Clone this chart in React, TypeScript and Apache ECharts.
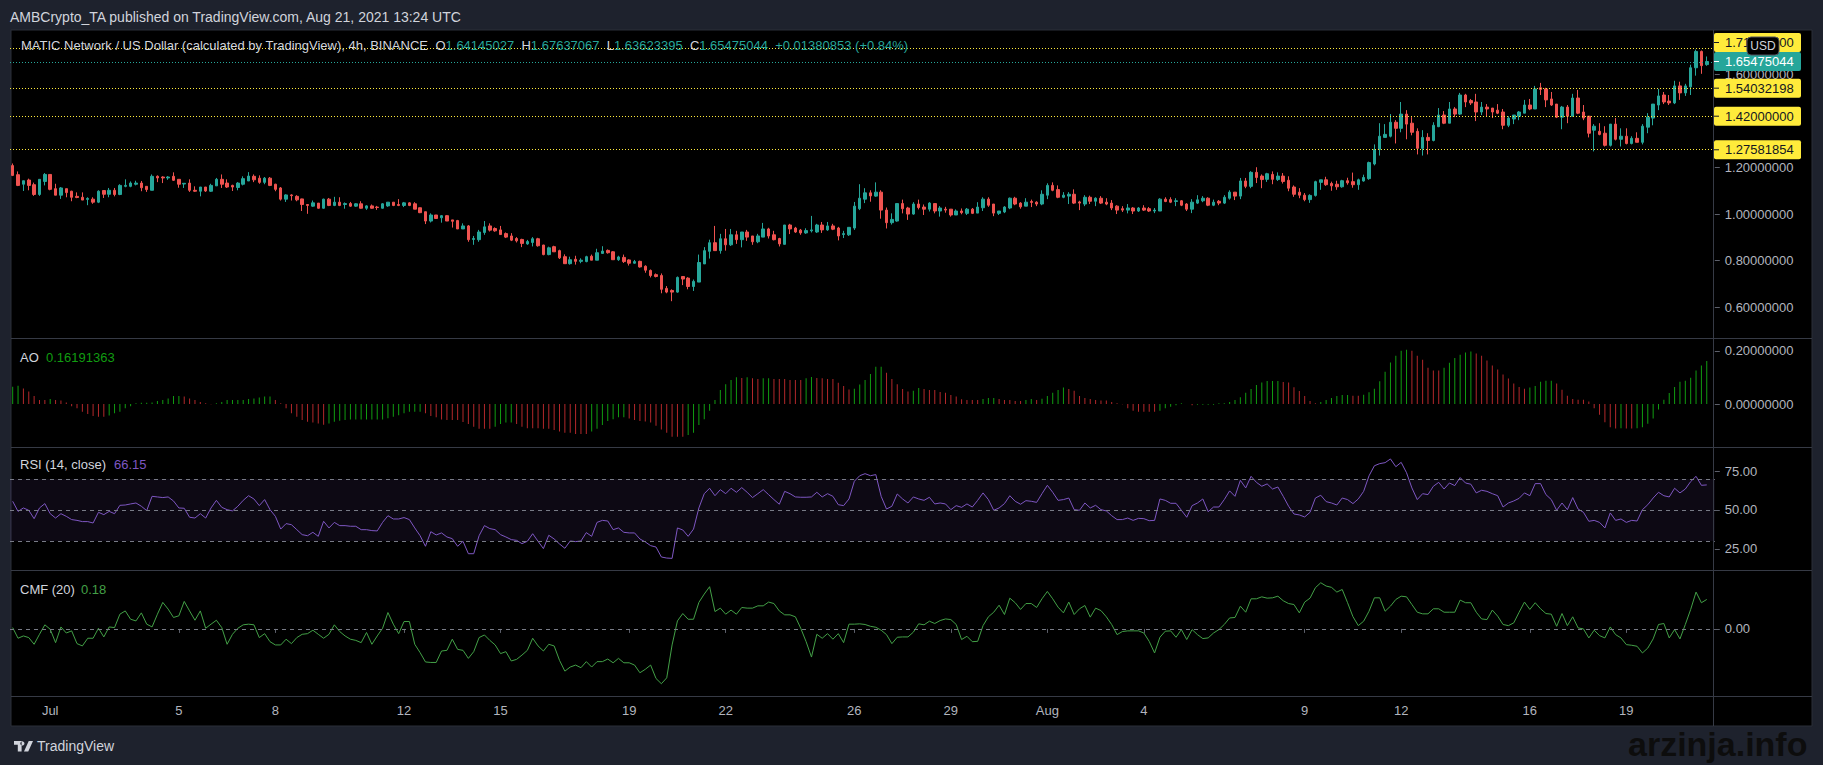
import React, { useEffect, useRef } from "react";
import * as echarts from "echarts";

const W = 1823;
const H = 765;
const FONT = "'Liberation Sans', Arial, sans-serif";
const BG = "#1e222d";
const TEXT = "#d1d4dc";
const AXIS_TEXT = "#b2b5be";
const TICK_C = "#5d606b";
const SEP_C = "#363a45";
const UP = "#26a69a";
const DOWN = "#ef5350";
const AO_UP = "#119c11";
const AO_DOWN = "#b3282b";
const RSI_C = "#7e57c2";
const CMF_C = "#43a047";
const YELLOW = "#ffeb3b";

// ---- categories: 4h candles starting 2021-06-29 20:00 UTC (317 candles + 1 empty slot)
const START_UTC = Date.UTC(2021, 5, 29, 20, 0);
const SLOT_COUNT = 318;

const TIME_TICKS: Array<[string, string]> = [
  ["2021-07-01 00:00", "Jul"], ["2021-07-05 00:00", "5"], ["2021-07-08 00:00", "8"],
  ["2021-07-12 00:00", "12"], ["2021-07-15 00:00", "15"], ["2021-07-19 00:00", "19"],
  ["2021-07-22 00:00", "22"], ["2021-07-26 00:00", "26"], ["2021-07-29 00:00", "29"],
  ["2021-08-01 00:00", "Aug"], ["2021-08-04 00:00", "4"], ["2021-08-09 00:00", "9"],
  ["2021-08-12 00:00", "12"], ["2021-08-16 00:00", "16"], ["2021-08-19 00:00", "19"],
];

const OPEN = [
  1.208,1.169,1.128,1.146,1.126,1.084,1.140,1.170,1.109,1.081,
  1.109,1.098,1.076,1.072,1.063,1.064,1.051,1.101,1.085,1.102,
  1.084,1.119,1.119,1.128,1.133,1.119,1.102,1.162,1.159,1.155,
  1.162,1.149,1.129,1.133,1.102,1.098,1.116,1.098,1.121,1.149,
  1.133,1.123,1.114,1.128,1.142,1.162,1.154,1.136,1.154,1.128,
  1.112,1.064,1.082,1.076,1.065,1.041,1.034,1.047,1.025,1.064,
  1.037,1.051,1.041,1.045,1.034,1.044,1.025,1.035,1.030,1.025,
  1.035,1.051,1.041,1.037,1.048,1.044,1.027,1.010,0.970,0.996,
  0.984,0.993,0.975,0.972,0.936,0.949,0.891,0.890,0.921,0.949,
  0.938,0.932,0.916,0.906,0.895,0.891,0.872,0.878,0.894,0.867,
  0.826,0.860,0.843,0.817,0.787,0.806,0.797,0.796,0.819,0.802,
  0.831,0.844,0.838,0.804,0.814,0.803,0.789,0.797,0.776,0.758,
  0.740,0.736,0.681,0.672,0.665,0.732,0.725,0.689,0.708,0.786,
  0.840,0.877,0.843,0.894,0.868,0.911,0.890,0.923,0.906,0.881,
  0.901,0.936,0.911,0.895,0.870,0.953,0.940,0.931,0.919,0.928,
  0.923,0.953,0.932,0.949,0.940,0.912,0.911,0.940,1.023,1.064,
  1.091,1.077,1.094,1.017,0.963,0.970,1.045,1.026,1.000,1.043,
  1.030,1.021,1.045,1.013,1.021,1.021,0.996,1.013,1.003,1.021,
  1.004,1.027,1.064,1.043,1.003,1.009,1.026,1.068,1.047,1.034,
  1.054,1.051,1.043,1.081,1.123,1.105,1.072,1.077,1.085,1.052,
  1.043,1.072,1.055,1.068,1.051,1.047,1.034,1.023,1.017,1.026,
  1.013,1.026,1.023,1.013,1.013,1.064,1.062,1.054,1.057,1.043,
  1.021,1.047,1.057,1.068,1.038,1.055,1.047,1.068,1.094,1.077,
  1.142,1.119,1.179,1.163,1.149,1.170,1.148,1.163,1.145,1.116,
  1.094,1.081,1.062,1.080,1.136,1.147,1.131,1.128,1.117,1.143,
  1.139,1.126,1.142,1.152,1.215,1.277,1.329,1.334,1.394,1.368,
  1.429,1.390,1.355,1.282,1.329,1.316,1.375,1.425,1.390,1.451,
  1.429,1.511,1.487,1.481,1.438,1.459,1.455,1.446,1.438,1.381,
  1.408,1.420,1.433,1.468,1.451,1.542,1.537,1.494,1.472,1.416,
  1.459,1.420,1.498,1.438,1.420,1.360,1.355,1.347,1.295,1.386,
  1.321,1.334,1.303,1.325,1.308,1.373,1.412,1.468,1.511,1.485,
  1.477,1.550,1.520,1.546,1.628,1.698,1.64145027,
];

const HIGH = [
  1.217,1.183,1.143,1.152,1.135,1.149,1.176,1.170,1.130,1.116,
  1.109,1.100,1.093,1.093,1.072,1.072,1.102,1.101,1.112,1.112,
  1.128,1.149,1.140,1.143,1.142,1.119,1.170,1.166,1.162,1.163,
  1.179,1.149,1.132,1.149,1.119,1.116,1.116,1.130,1.155,1.170,
  1.149,1.126,1.137,1.162,1.180,1.170,1.166,1.159,1.159,1.130,
  1.116,1.085,1.085,1.081,1.066,1.041,1.058,1.047,1.066,1.069,
  1.074,1.072,1.050,1.052,1.047,1.055,1.038,1.041,1.035,1.047,
  1.051,1.051,1.064,1.052,1.051,1.051,1.028,1.010,1.003,0.996,
  0.996,0.996,0.975,0.975,0.960,0.953,0.906,0.932,0.970,0.960,
  0.943,0.949,0.921,0.918,0.901,0.894,0.889,0.901,0.898,0.868,
  0.860,0.864,0.847,0.827,0.817,0.821,0.810,0.821,0.826,0.851,
  0.862,0.848,0.841,0.821,0.826,0.806,0.803,0.800,0.780,0.762,
  0.745,0.745,0.691,0.677,0.732,0.732,0.729,0.719,0.826,0.858,
  0.890,0.949,0.915,0.936,0.936,0.928,0.923,0.932,0.906,0.915,
  0.962,0.941,0.928,0.898,0.953,0.958,0.945,0.936,0.939,0.992,
  0.958,0.966,0.966,0.958,0.945,0.928,0.943,1.052,1.128,1.111,
  1.102,1.136,1.102,1.028,1.003,1.045,1.062,1.031,1.051,1.062,
  1.041,1.051,1.045,1.034,1.031,1.021,1.020,1.024,1.026,1.026,
  1.051,1.072,1.072,1.043,1.013,1.034,1.071,1.074,1.051,1.068,
  1.062,1.055,1.102,1.132,1.136,1.123,1.094,1.094,1.106,1.057,
  1.081,1.079,1.072,1.077,1.068,1.060,1.038,1.034,1.043,1.030,
  1.030,1.038,1.030,1.026,1.068,1.072,1.072,1.068,1.060,1.047,
  1.064,1.081,1.077,1.072,1.062,1.060,1.081,1.102,1.094,1.155,
  1.155,1.184,1.201,1.170,1.177,1.183,1.179,1.176,1.162,1.123,
  1.111,1.090,1.085,1.143,1.147,1.160,1.139,1.143,1.147,1.156,
  1.178,1.152,1.169,1.225,1.299,1.390,1.386,1.429,1.403,1.481,
  1.446,1.416,1.368,1.360,1.347,1.394,1.455,1.442,1.481,1.459,
  1.520,1.516,1.494,1.516,1.481,1.472,1.455,1.472,1.451,1.420,
  1.425,1.442,1.490,1.494,1.550,1.563,1.542,1.524,1.472,1.464,
  1.468,1.516,1.533,1.468,1.420,1.386,1.390,1.377,1.386,1.412,
  1.368,1.368,1.334,1.351,1.386,1.433,1.472,1.537,1.524,1.511,
  1.572,1.568,1.559,1.641,1.706,1.702,1.67637067,
];

const LOW = [
  1.163,1.120,1.099,1.102,1.078,1.078,1.123,1.102,1.081,1.065,
  1.072,1.055,1.068,1.060,1.038,1.044,1.047,1.069,1.072,1.076,
  1.081,1.115,1.115,1.123,1.098,1.095,1.102,1.137,1.133,1.147,
  1.142,1.113,1.112,1.095,1.095,1.076,1.095,1.095,1.121,1.112,
  1.112,1.099,1.102,1.123,1.142,1.137,1.130,1.128,1.120,1.098,
  1.058,1.052,1.058,1.055,1.013,1.001,1.031,1.023,1.023,1.034,
  1.034,1.034,1.023,1.031,1.031,1.023,1.018,1.023,1.018,1.023,
  1.031,1.034,1.034,1.030,1.034,1.021,1.004,0.957,0.964,0.979,
  0.963,0.970,0.942,0.936,0.936,0.881,0.868,0.881,0.911,0.925,
  0.924,0.912,0.897,0.884,0.878,0.858,0.868,0.861,0.860,0.823,
  0.823,0.838,0.807,0.787,0.783,0.783,0.789,0.793,0.802,0.802,
  0.831,0.830,0.804,0.799,0.790,0.779,0.787,0.770,0.748,0.728,
  0.728,0.660,0.660,0.626,0.662,0.695,0.677,0.670,0.708,0.786,
  0.809,0.843,0.830,0.843,0.863,0.872,0.857,0.885,0.868,0.875,
  0.901,0.895,0.887,0.861,0.870,0.914,0.919,0.911,0.915,0.921,
  0.919,0.919,0.928,0.931,0.887,0.897,0.906,0.932,1.017,1.047,
  1.053,1.074,0.980,0.938,0.955,0.967,1.003,0.975,0.997,1.020,
  0.996,1.011,1.003,0.989,1.006,0.989,0.996,0.999,0.996,1.000,
  1.004,1.013,1.031,0.991,0.996,1.004,1.021,1.038,1.023,1.034,
  1.030,1.034,1.038,1.064,1.098,1.068,1.068,1.043,1.043,1.017,
  1.034,1.043,1.034,1.043,1.038,1.017,1.000,1.009,1.003,1.000,
  1.009,1.013,1.009,1.004,1.013,1.051,1.047,1.034,1.034,1.013,
  1.004,1.043,1.051,1.034,1.034,1.038,1.043,1.062,1.060,1.064,
  1.111,1.111,1.133,1.111,1.138,1.128,1.142,1.131,1.098,1.074,
  1.068,1.055,1.048,1.075,1.104,1.121,1.100,1.104,1.113,1.126,
  1.113,1.104,1.139,1.147,1.209,1.251,1.329,1.329,1.303,1.351,
  1.321,1.338,1.256,1.251,1.256,1.312,1.373,1.386,1.390,1.416,
  1.425,1.459,1.468,1.399,1.425,1.420,1.412,1.429,1.364,1.373,
  1.386,1.403,1.433,1.446,1.451,1.511,1.459,1.464,1.412,1.364,
  1.390,1.420,1.429,1.403,1.329,1.269,1.338,1.290,1.290,1.316,
  1.290,1.299,1.299,1.308,1.299,1.347,1.381,1.446,1.472,1.468,
  1.472,1.490,1.507,1.511,1.594,1.602,1.63623395,
];

const CLOSE = [
  1.166,1.123,1.143,1.123,1.084,1.149,1.170,1.106,1.081,1.112,
  1.092,1.072,1.071,1.060,1.067,1.051,1.098,1.085,1.102,1.084,
  1.123,1.123,1.133,1.133,1.113,1.105,1.162,1.155,1.155,1.159,
  1.145,1.128,1.132,1.102,1.098,1.116,1.099,1.123,1.149,1.128,
  1.116,1.116,1.133,1.152,1.163,1.147,1.136,1.154,1.123,1.106,
  1.064,1.082,1.079,1.061,1.041,1.037,1.048,1.025,1.064,1.037,
  1.051,1.037,1.045,1.034,1.044,1.025,1.035,1.025,1.028,1.044,
  1.051,1.037,1.037,1.048,1.037,1.021,1.006,0.970,0.996,0.981,
  0.993,0.970,0.969,0.936,0.949,0.890,0.895,0.923,0.945,0.931,
  0.928,0.912,0.901,0.888,0.885,0.874,0.882,0.894,0.864,0.826,
  0.855,0.838,0.812,0.787,0.804,0.797,0.802,0.817,0.802,0.834,
  0.841,0.834,0.804,0.816,0.796,0.789,0.796,0.773,0.759,0.736,
  0.732,0.677,0.665,0.665,0.728,0.721,0.689,0.711,0.792,0.843,
  0.877,0.843,0.894,0.868,0.911,0.890,0.923,0.901,0.881,0.906,
  0.936,0.906,0.890,0.872,0.953,0.936,0.923,0.919,0.929,0.932,
  0.953,0.932,0.949,0.935,0.906,0.916,0.943,1.034,1.068,1.091,
  1.078,1.094,1.017,0.963,0.977,1.045,1.023,1.000,1.043,1.028,
  1.021,1.047,1.013,1.026,1.017,0.996,1.013,1.006,1.021,1.003,
  1.030,1.064,1.038,1.004,1.013,1.030,1.068,1.043,1.031,1.051,
  1.050,1.043,1.085,1.123,1.102,1.072,1.081,1.085,1.047,1.047,
  1.072,1.055,1.068,1.047,1.043,1.026,1.017,1.017,1.026,1.013,
  1.026,1.017,1.013,1.017,1.064,1.054,1.051,1.057,1.038,1.021,
  1.051,1.061,1.068,1.038,1.051,1.047,1.072,1.094,1.077,1.142,
  1.119,1.179,1.157,1.148,1.173,1.149,1.163,1.140,1.111,1.085,
  1.081,1.062,1.080,1.139,1.147,1.126,1.121,1.117,1.143,1.134,
  1.126,1.147,1.157,1.221,1.277,1.334,1.342,1.394,1.368,1.429,
  1.386,1.351,1.282,1.329,1.316,1.381,1.425,1.390,1.451,1.429,
  1.511,1.481,1.477,1.438,1.459,1.451,1.438,1.433,1.381,1.412,
  1.425,1.438,1.468,1.451,1.537,1.535,1.490,1.468,1.416,1.459,
  1.420,1.498,1.433,1.412,1.347,1.377,1.342,1.295,1.386,1.321,
  1.334,1.303,1.325,1.308,1.377,1.416,1.472,1.507,1.481,1.477,
  1.550,1.520,1.550,1.628,1.698,1.637,1.65475044,
];

const AO = [
  0.065,0.069,0.059,0.047,0.030,0.015,0.015,0.019,0.015,0.013,
  0.006,-0.008,-0.016,-0.029,-0.038,-0.045,-0.048,-0.048,-0.043,-0.035,
  -0.029,-0.016,-0.008,0.003,0.005,0.005,0.006,0.011,0.015,0.021,
  0.030,0.030,0.028,0.021,0.015,0.008,0.003,-0.001,0.003,0.008,
  0.015,0.015,0.015,0.015,0.019,0.021,0.025,0.028,0.028,0.015,
  0.003,-0.016,-0.035,-0.048,-0.060,-0.067,-0.070,-0.073,-0.078,-0.073,
  -0.067,-0.063,-0.060,-0.058,-0.058,-0.058,-0.058,-0.058,-0.058,-0.058,
  -0.054,-0.048,-0.042,-0.035,-0.029,-0.029,-0.029,-0.035,-0.045,-0.050,
  -0.058,-0.060,-0.060,-0.060,-0.068,-0.075,-0.086,-0.093,-0.093,-0.093,
  -0.086,-0.075,-0.070,-0.070,-0.075,-0.086,-0.091,-0.091,-0.091,-0.093,
  -0.093,-0.098,-0.104,-0.108,-0.108,-0.113,-0.113,-0.113,-0.104,-0.093,
  -0.079,-0.064,-0.057,-0.050,-0.050,-0.055,-0.060,-0.064,-0.066,-0.070,
  -0.082,-0.096,-0.108,-0.123,-0.123,-0.123,-0.117,-0.108,-0.079,-0.057,
  -0.025,0.015,0.053,0.075,0.091,0.101,0.098,0.101,0.097,0.094,
  0.097,0.097,0.094,0.094,0.094,0.091,0.091,0.091,0.097,0.102,
  0.098,0.097,0.094,0.094,0.080,0.068,0.055,0.058,0.074,0.091,
  0.113,0.141,0.141,0.118,0.094,0.075,0.057,0.047,0.050,0.060,
  0.057,0.053,0.053,0.045,0.043,0.034,0.028,0.018,0.015,0.015,
  0.015,0.019,0.023,0.023,0.019,0.015,0.015,0.011,0.011,0.015,
  0.019,0.015,0.020,0.030,0.043,0.053,0.062,0.057,0.050,0.030,
  0.023,0.019,0.015,0.013,0.013,0.008,0.003,-0.001,-0.016,-0.025,
  -0.029,-0.029,-0.029,-0.029,-0.025,-0.016,-0.010,-0.005,0.003,0.000,
  -0.005,-0.003,-0.003,-0.003,-0.003,0.003,0.003,0.008,0.015,0.026,
  0.043,0.057,0.072,0.081,0.087,0.087,0.087,0.083,0.081,0.063,
  0.049,0.030,0.011,0.003,0.008,0.015,0.023,0.030,0.034,0.034,
  0.031,0.031,0.035,0.044,0.058,0.086,0.122,0.157,0.182,0.201,
  0.205,0.201,0.182,0.167,0.137,0.126,0.126,0.137,0.156,0.174,
  0.186,0.194,0.198,0.191,0.182,0.164,0.145,0.130,0.111,0.096,
  0.077,0.064,0.058,0.062,0.068,0.084,0.088,0.088,0.077,0.054,
  0.031,0.019,0.016,0.016,0.010,-0.016,-0.040,-0.069,-0.088,-0.092,
  -0.091,-0.092,-0.092,-0.091,-0.088,-0.074,-0.055,-0.021,0.016,0.042,
  0.064,0.084,0.088,0.099,0.126,0.145,0.16191363,
];

const RSI = [
  55.6,49.1,51.3,49.8,44.4,51.3,54.1,47.6,44.8,47.6,
  45.9,43.8,43.3,42.5,42.5,41.6,48.5,47.0,49.1,47.6,
  53.0,53.2,53.9,54.5,52.4,49.6,58.8,58.4,58.0,58.4,
  55.8,51.3,51.1,45.3,44.8,47.6,44.8,51.3,56.2,51.7,
  50.2,49.4,52.4,56.2,59.2,57.1,52.8,56.7,50.2,45.9,
  37.7,41.2,40.5,37.3,34.1,33.4,35.6,33.0,42.7,38.4,
  42.0,39.9,39.9,39.5,39.5,37.3,37.3,36.7,36.5,42.0,
  46.3,44.2,44.2,45.1,43.8,38.4,33.4,26.6,36.0,33.9,
  35.2,32.6,31.5,26.6,29.8,21.8,21.8,33.4,39.9,38.0,
  37.3,34.1,32.6,30.9,30.4,28.3,29.8,34.7,29.8,25.1,
  33.7,31.3,28.1,25.3,30.0,29.6,30.0,35.4,33.0,42.0,
  43.3,42.9,37.3,38.4,35.6,35.2,35.2,31.3,29.4,27.0,
  26.1,19.7,19.0,18.8,38.4,37.1,33.0,37.7,51.3,60.5,
  64.0,59.2,63.1,60.5,64.0,61.4,64.4,61.4,58.0,60.5,
  63.1,59.9,56.7,53.7,62.0,60.5,58.4,58.2,58.2,58.4,
  61.4,58.4,60.5,58.8,53.4,52.8,57.1,68.5,72.1,73.4,
  72.1,72.8,58.8,50.6,52.4,60.3,57.1,54.5,58.4,57.1,
  56.2,58.2,53.9,54.5,53.9,50.2,52.8,51.7,53.9,51.9,
  56.2,61.0,56.7,49.8,51.3,54.1,59.2,55.6,53.7,56.0,
  55.6,54.9,60.5,65.9,61.4,56.2,56.7,57.7,50.2,49.8,
  54.5,51.3,53.0,50.2,49.4,46.3,43.8,43.8,44.8,43.3,
  44.6,44.4,43.1,43.3,57.1,56.2,54.3,54.3,49.8,45.3,
  52.8,54.5,57.1,48.9,51.9,51.9,56.7,62.3,58.8,69.1,
  64.2,71.7,67.8,65.3,66.8,63.5,64.8,58.8,52.4,47.4,
  46.8,45.5,48.5,57.7,59.5,55.4,54.5,53.2,57.7,56.7,
  54.1,57.1,62.0,72.0,78.5,79.9,80.5,82.9,77.9,80.7,
  74.0,64.2,56.7,60.5,59.9,65.3,67.8,63.5,67.4,65.7,
  70.9,67.4,66.6,61.0,62.7,62.0,60.5,59.2,51.9,54.5,
  55.8,57.5,61.0,59.2,67.0,67.0,59.9,56.7,49.8,54.5,
  50.2,58.0,50.6,48.5,42.7,43.3,42.0,38.4,48.1,43.3,
  44.2,42.0,43.3,42.9,50.2,53.4,57.7,61.4,59.2,58.4,
  64.0,61.0,63.5,68.3,71.7,65.9,66.15,
];

const CMF = [
  0.008,-0.057,-0.043,-0.053,-0.094,-0.033,0.025,-0.002,-0.084,0.012,
  -0.025,-0.012,-0.090,-0.104,-0.057,-0.057,0.004,-0.049,0.012,0.008,
  0.090,0.110,0.059,0.049,0.098,0.029,0.012,0.090,0.162,0.121,
  0.070,0.080,0.168,0.110,0.053,0.110,0.004,0.029,0.053,0.008,
  -0.094,-0.033,0.004,0.025,0.029,0.025,-0.053,-0.029,-0.078,-0.098,
  -0.098,-0.063,-0.090,-0.053,-0.033,-0.029,-0.008,-0.033,-0.057,-0.033,
  0.025,-0.016,-0.043,-0.063,-0.070,-0.084,-0.022,-0.094,-0.043,0.004,
  0.100,0.029,-0.029,0.045,0.045,-0.094,-0.145,-0.202,-0.205,-0.205,
  -0.135,-0.131,-0.063,-0.125,-0.131,-0.180,-0.139,-0.053,-0.037,-0.070,
  -0.098,-0.151,-0.139,-0.196,-0.186,-0.160,-0.131,-0.057,-0.104,-0.135,
  -0.094,-0.104,-0.192,-0.258,-0.233,-0.221,-0.237,-0.200,-0.233,-0.200,
  -0.200,-0.184,-0.207,-0.180,-0.207,-0.207,-0.221,-0.268,-0.247,-0.221,
  -0.303,-0.335,-0.299,-0.098,0.049,0.094,0.059,0.059,0.162,0.213,
  0.258,0.106,0.127,0.090,0.115,0.090,0.131,0.127,0.127,0.141,
  0.141,0.164,0.155,0.110,0.086,0.086,0.074,0.004,-0.078,-0.172,
  -0.033,-0.057,-0.029,-0.063,-0.029,-0.084,0.029,0.029,0.031,0.027,
  0.016,0.010,-0.008,-0.035,-0.090,-0.051,-0.049,-0.049,-0.020,0.031,
  0.025,0.047,0.033,0.051,0.061,0.057,0.027,-0.065,-0.045,-0.078,
  -0.076,0.020,0.074,0.102,0.145,0.088,0.188,0.160,0.119,0.155,
  0.155,0.131,0.184,0.229,0.184,0.133,0.098,0.164,0.088,0.123,
  0.143,0.072,0.127,0.112,0.074,0.027,-0.035,-0.016,-0.012,-0.012,
  -0.012,-0.025,-0.076,-0.147,-0.051,-0.014,-0.012,-0.051,-0.004,-0.065,
  -0.004,-0.035,-0.059,-0.055,-0.025,-0.004,0.027,0.067,0.070,0.139,
  0.102,0.184,0.184,0.196,0.188,0.190,0.200,0.172,0.155,0.149,
  0.098,0.164,0.188,0.252,0.282,0.262,0.254,0.225,0.241,0.160,
  0.075,0.020,0.047,0.108,0.190,0.190,0.108,0.139,0.180,0.200,
  0.196,0.149,0.102,0.092,0.092,0.123,0.123,0.102,0.102,0.102,
  0.176,0.160,0.160,0.102,0.061,0.057,0.115,0.078,0.027,0.020,
  0.037,0.102,0.164,0.119,0.160,0.123,0.094,0.090,0.016,0.094,
  0.020,0.074,0.006,0.000,-0.055,-0.008,-0.041,-0.055,0.012,-0.035,
  -0.055,-0.096,-0.100,-0.106,-0.147,-0.117,-0.061,0.027,0.033,-0.055,
  -0.004,-0.061,0.027,0.119,0.225,0.160,0.18,
];

// horizontal levels drawn on the price pane
const LEVELS = [1.71, 1.54032198, 1.42, 1.27581854];
const LEVEL_TEXT = ["1.71000000", "1.54032198", "1.42000000", "1.27581854"];
const LAST_PRICE = 1.65475044;
const LAST_TEXT = "1.65475044";

// axis tick values
const PRICE_TICKS = [0.6, 0.8, 1.0, 1.2, 1.6];
const AO_TICKS = [0, 0.2];
const RSI_TICKS = [25, 50, 75];
const CMF_TICKS = [0];

// layout
const LEFT = 10;
const RIGHT_EDGE = 1714.8;
const PANES = [
  { top: 30, height: 308, min: 0.468, max: 1.79 },
  { top: 338, height: 109, min: -0.162, max: 0.249 },
  { top: 447, height: 123, min: 11.3, max: 90.6 },
  { top: 570, height: 126, min: -0.41, max: 0.36 },
];

function fmtDate(t: number) {
  const d = new Date(t);
  const p = (n: number) => String(n).padStart(2, "0");
  return `${d.getUTCFullYear()}-${p(d.getUTCMonth() + 1)}-${p(d.getUTCDate())} ${p(d.getUTCHours())}:${p(d.getUTCMinutes())}`;
}

const CATEGORIES: string[] = [];
for (let i = 0; i < SLOT_COUNT; i++) CATEGORIES.push(fmtDate(START_UTC + i * 4 * 3600 * 1000));
const TICK_MAP = new Map<string, string>(TIME_TICKS);

export default function App() {
  const ref = useRef<HTMLDivElement>(null);

  useEffect(() => {
    document.body.style.margin = "0";
    const el = ref.current!;
    const chart = echarts.init(el, undefined, { renderer: "svg", width: W, height: H });

    const candleData = OPEN.map((o, i) => [o, CLOSE[i], LOW[i], HIGH[i]]);
    let prevColor = AO_UP;
    const aoData = AO.map((v, i) => {
      let c = prevColor;
      if (i > 0) {
        if (v > AO[i - 1]) c = AO_UP;
        else if (v < AO[i - 1]) c = AO_DOWN;
      }
      prevColor = c;
      return { value: v, itemStyle: { color: c } };
    });

    const yAxisCommon = (i: number, ticks: number[], digits: number) => ({
      type: "value",
      gridIndex: i,
      position: "right",
      min: PANES[i].min,
      max: PANES[i].max,
      splitLine: { show: false },
      axisLine: { show: false },
      axisTick: { show: true, length: 5, lineStyle: { color: TICK_C }, customValues: ticks },
      axisLabel: {
        color: AXIS_TEXT,
        fontSize: 13,
        fontFamily: FONT,
        margin: 10,
        customValues: ticks,
        formatter: (v: number) => Number(v).toFixed(digits),
      },
    });

    const xAxes = [0, 1, 2, 3].map((i) => ({
      type: "category",
      gridIndex: i,
      data: CATEGORIES,
      boundaryGap: true,
      axisLine: { show: false },
      splitLine: { show: false },
      axisTick:
        i === 3
          ? {
              show: true,
              alignWithLabel: true,
              length: 4,
              interval: (_idx: number, val: string) => TICK_MAP.has(val),
              lineStyle: { color: TICK_C },
            }
          : { show: false },
      axisLabel:
        i === 3
          ? {
              show: true,
              color: AXIS_TEXT,
              fontSize: 13,
              fontFamily: FONT,
              margin: 8,
              interval: (_idx: number, val: string) => TICK_MAP.has(val),
              formatter: (val: string) => TICK_MAP.get(val) || "",
            }
          : { show: false },
    }));

    const dashed = { color: "#787b86", type: [4, 4], width: 1 };

    chart.setOption({
      animation: false,
      backgroundColor: BG,
      textStyle: { fontFamily: FONT },
      grid: PANES.map((p) => ({ left: LEFT, right: W - RIGHT_EDGE, top: p.top, height: p.height })),
      xAxis: xAxes,
      yAxis: [
        yAxisCommon(0, PRICE_TICKS, 8),
        yAxisCommon(1, AO_TICKS, 8),
        yAxisCommon(2, RSI_TICKS, 2),
        yAxisCommon(3, CMF_TICKS, 2),
      ],
      series: [
        {
          type: "candlestick",
          xAxisIndex: 0,
          yAxisIndex: 0,
          data: candleData,
          barWidth: 3,
          itemStyle: { color: UP, color0: DOWN, borderColor: UP, borderColor0: DOWN, borderWidth: 1 },
          markLine: {
            silent: true,
            symbol: "none",
            label: { show: false },
            data: [
              ...LEVELS.map((v) => ({ yAxis: v, lineStyle: { color: YELLOW, type: [1, 2], width: 1 } })),
              { yAxis: LAST_PRICE, lineStyle: { color: UP, type: [1, 2], width: 1 } },
            ],
          },
        },
        {
          type: "bar",
          xAxisIndex: 1,
          yAxisIndex: 1,
          data: aoData,
          barWidth: 1,
        },
        {
          type: "line",
          xAxisIndex: 2,
          yAxisIndex: 2,
          data: RSI,
          symbol: "none",
          lineStyle: { color: RSI_C, width: 1 },
          markArea: {
            silent: true,
            itemStyle: { color: "rgba(126,87,194,0.1)" },
            data: [[{ yAxis: 30 }, { yAxis: 70 }]],
          },
          markLine: {
            silent: true,
            symbol: "none",
            label: { show: false },
            lineStyle: dashed,
            data: [{ yAxis: 70 }, { yAxis: 50 }, { yAxis: 30 }],
          },
        },
        {
          type: "line",
          xAxisIndex: 3,
          yAxisIndex: 3,
          data: CMF,
          symbol: "none",
          lineStyle: { color: CMF_C, width: 1 },
          markLine: {
            silent: true,
            symbol: "none",
            label: { show: false },
            lineStyle: dashed,
            data: [{ yAxis: 0 }],
          },
        },
      ],
    });

    // ---- overlay graphics (frame, texts, price labels)
    const txt = (x: number, y: number, text: string, fill: string, size = 13, extra: any = {}) => ({
      type: "text",
      x,
      y,
      z: 60,
      silent: true,
      style: {
        text,
        fill,
        fontSize: size,
        fontFamily: FONT,
        textVerticalAlign: "middle",
        verticalAlign: "middle",
        ...extra,
      },
    });
    const hline = (y: number) => ({
      type: "line",
      z: 40,
      silent: true,
      shape: { x1: 11, y1: y, x2: 1812, y2: y },
      style: { stroke: SEP_C, lineWidth: 1 },
    });

    echarts.graphic.registerShape(
      "tvlogo",
      echarts.graphic.extendPath(
        "M0 0H8V11H4V4H0Z M11 2.6A2.2 2.2 0 1 0 11 2.61Z M15.5 0H20L15 11H10.5Z",
        {}
      )
    );

    const yOf = (v: number) => chart.convertToPixel({ yAxisIndex: 0 }, v) as number;
    const yLast = yOf(LAST_PRICE);
    const priceBox = (y: number, text: string, bg: string, fg: string) => [
      {
        type: "rect",
        z: 70,
        silent: true,
        shape: { x: 1714, y: y - 9.5, width: 87, height: 19, r: 2 },
        style: { fill: bg },
      },
      {
        type: "line",
        z: 71,
        silent: true,
        shape: { x1: 1714, y1: y, x2: 1719, y2: y },
        style: { stroke: fg, lineWidth: 1 },
      },
      { ...txt(1725, y, text, fg, 13), z: 72 },
    ];
    const labels: any[] = [];
    LEVELS.forEach((v, i) => {
      let y = yOf(v);
      if (y < yLast && yLast - y < 19) y = yLast - 19;
      labels.push(...priceBox(y, LEVEL_TEXT[i], YELLOW, "#131722"));
    });
    labels.push(...priceBox(yLast, LAST_TEXT, UP, "#ffffff"));

    const graphics: any[] = [
      {
        type: "rect",
        z: -100,
        silent: true,
        shape: { x: 11, y: 30, width: 1801, height: 696 },
        style: { fill: "#000000", stroke: "#2a2e39", lineWidth: 1 },
      },
      hline(338.5),
      hline(447.5),
      hline(570.5),
      hline(696.5),
      {
        type: "line",
        z: 40,
        silent: true,
        shape: { x1: 1713.5, y1: 30, x2: 1713.5, y2: 726 },
        style: { stroke: SEP_C, lineWidth: 1 },
      },
      txt(10, 17, "AMBCrypto_TA published on TradingView.com, Aug 21, 2021 13:24 UTC", TEXT, 14),
      {
        type: "text",
        x: 21,
        y: 45,
        z: 60,
        silent: true,
        style: {
          text:
            "{n|MATIC Network / US Dollar (calculated by TradingView), 4h, BINANCE}  {n|O}{v|1.64145027}  {n|H}{v|1.67637067}  {n|L}{v|1.63623395}  {n|C}{v|1.65475044}  {v|+0.01380853 (+0.84%)}",
          fontSize: 13,
          fontFamily: FONT,
          fill: TEXT,
          textVerticalAlign: "middle",
          verticalAlign: "middle",
          rich: {
            n: { fill: TEXT, fontSize: 13, fontFamily: FONT },
            v: { fill: UP, fontSize: 13, fontFamily: FONT },
          },
        },
      },
      txt(20, 357, "AO", TEXT, 13),
      txt(46, 357, "0.16191363", AO_UP, 13),
      txt(20, 464, "RSI (14, close)", TEXT, 13),
      txt(114, 464, "66.15", RSI_C, 13),
      txt(20, 589, "CMF (20)", TEXT, 13),
      txt(81, 589, "0.18", CMF_C, 13),
      {
        type: "tvlogo",
        x: 14,
        y: 741,
        scaleX: 0.95,
        scaleY: 0.95,
        z: 60,
        silent: true,
        style: { fill: TEXT },
      },
      txt(37, 746, "TradingView", TEXT, 14),
      txt(1628, 744, "arzinja.info", "#0d0d0d", 34, { fontWeight: "bold" }),
      ...labels,
      {
        type: "rect",
        z: 80,
        silent: true,
        shape: { x: 1747, y: 37, width: 32, height: 18, r: 4 },
        style: { fill: "#000000", stroke: "#50535e", lineWidth: 1 },
      },
      { ...txt(1763, 46, "USD", TEXT, 12, { textAlign: "center", align: "center" }), z: 81 },
    ];

    chart.setOption({ graphic: { elements: graphics } });

    return () => {
      chart.dispose();
    };
  }, []);

  return <div ref={ref} style={{ width: W, height: H }} />;
}
